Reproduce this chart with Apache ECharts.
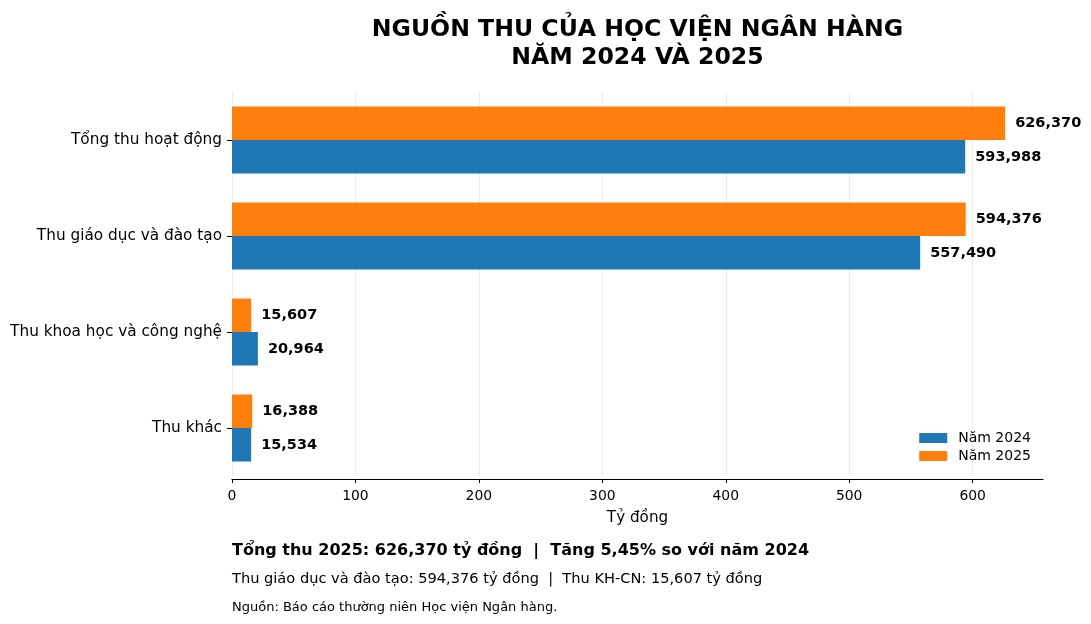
<!DOCTYPE html>
<html>
<head>
<meta charset="utf-8">
<script src="https://cdn.jsdelivr.net/npm/echarts@6/dist/echarts.min.js"></script>
<style>
  html, body { margin: 0; padding: 0; background: #fff; }
  #chart { width: 1091px; height: 624px; }
</style>
</head>
<body>
<div id="chart"></div>
<script>
'use strict';
const categories = ['Tổng thu hoạt động', 'Thu giáo dục và đào tạo', 'Thu khoa học và công nghệ', 'Thu khác'];
const values2024 = [593.988, 557.490, 20.964, 15.534];
const values2025 = [626.370, 594.376, 15.607, 16.388];
const xTicks = [0, 100, 200, 300, 400, 500, 600];
const xMax = 657;

const font = 'DejaVu Sans';
let chart = echarts.init(document.getElementById('chart'));

function fmt(v) {
    return v.toFixed(3).replace('.', ',');
}

let barLabel = {
    show: true,
    position: 'right',
    distance: 10,
    fontFamily: font,
    fontWeight: 'bold',
    fontSize: 14.5,
    color: '#000',
    formatter: function (p) { return fmt(p.value); }
};

let option = {
    backgroundColor: '#fff',
    animation: false,
    textStyle: { fontFamily: font },
    grid: { left: 232, right: 48, top: 92, height: 384, containLabel: false },
    legend: {
        orient: 'vertical',
        right: 55,
        top: 426,
        itemWidth: 28,
        itemHeight: 10,
        itemGap: 4,
        icon: 'rect',
        textStyle: { fontFamily: font, fontSize: 14, color: '#000', padding: [0, 0, 0, 6] },
        data: ['Năm 2024', 'Năm 2025']
    },
    xAxis: {
        type: 'value',
        min: 0,
        max: xMax,
        offset: 3,
        name: 'Tỷ đồng',
        nameLocation: 'middle',
        nameGap: 32,
        nameTextStyle: { fontFamily: font, fontSize: 15.2, color: '#000' },
        axisLine: { show: true, lineStyle: { color: '#000', width: 1.2 } },
        axisTick: { show: true, length: 4, lineStyle: { color: '#000' }, customValues: xTicks },
        axisLabel: { fontFamily: font, fontSize: 13.9, color: '#000', margin: 10, customValues: xTicks },
        splitLine: { show: true, lineStyle: { color: '#ebebeb', width: 1 } }
    },
    yAxis: {
        type: 'category',
        inverse: true,
        data: categories,
        axisLine: { show: false },
        axisTick: { show: true, alignWithLabel: true, length: 5, lineStyle: { color: '#000' } },
        axisLabel: { fontFamily: font, fontSize: 15.3, color: '#000', margin: 10, padding: [4, 0, 0, 0] }
    },
    series: [
        {
            name: 'Năm 2025',
            type: 'bar',
            data: values2025,
            barWidth: 33.5,
            barGap: '0%',
            itemStyle: { color: '#ff7f0e' },
            label: barLabel
        },
        {
            name: 'Năm 2024',
            type: 'bar',
            data: values2024,
            barWidth: 33.5,
            barGap: '0%',
            itemStyle: { color: '#1f77b4' },
            label: barLabel
        }
    ],
    graphic: [
        {
            type: 'text', x: 637.5, y: 16,
            style: {
                text: 'NGUỒN THU CỦA HỌC VIỆN NGÂN HÀNG\nNĂM 2024 VÀ 2025',
                fontFamily: font, fontWeight: 'bold', fontSize: 23.6, lineHeight: 28,
                fill: '#000', textAlign: 'center'
            }
        },
        {
            type: 'text', x: 232, y: 543,
            style: {
                text: 'Tổng thu 2025: 626,370 tỷ đồng  |  Tăng 5,45% so với năm 2024',
                fontFamily: font, fontWeight: 'bold', fontSize: 16, fill: '#000'
            }
        },
        {
            type: 'text', x: 232, y: 572,
            style: {
                text: 'Thu giáo dục và đào tạo: 594,376 tỷ đồng  |  Thu KH-CN: 15,607 tỷ đồng',
                fontFamily: font, fontSize: 14.6, fill: '#000'
            }
        },
        {
            type: 'text', x: 232, y: 601,
            style: {
                text: 'Nguồn: Báo cáo thường niên Học viện Ngân hàng.',
                fontFamily: font, fontSize: 13, fill: '#000'
            }
        }
    ]
};

chart.setOption(option);
</script>
</body>
</html>
